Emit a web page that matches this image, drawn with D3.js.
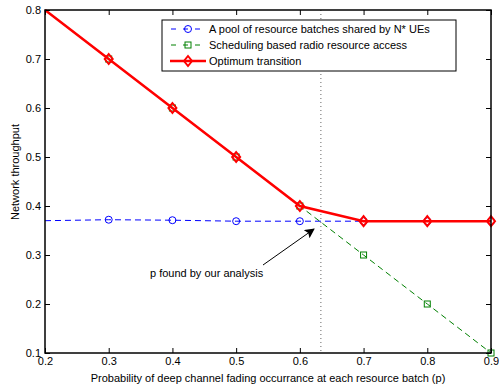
<!DOCTYPE html>
<html>
<head>
<meta charset="utf-8">
<script src="https://cdn.jsdelivr.net/npm/d3@7"></script>
<style>
  body { margin: 0; background: #fff; }
  svg { font-family: "Liberation Sans", Arial, sans-serif; }
</style>
</head>
<body>
<div id="chart"></div>
<script>
// data
const pValues = [0.2, 0.3, 0.4, 0.5, 0.6, 0.7, 0.8, 0.9];
const poolThroughput = [0.37, 0.372, 0.371, 0.369, 0.369, 0.369, 0.369, 0.369];
const schedThroughput = [0.8, 0.7, 0.6, 0.5, 0.4, 0.3, 0.2, 0.1];
const optimumThroughput = [0.8, 0.7, 0.6, 0.5, 0.4, 0.369, 0.369, 0.369];
const xTicks = [0.2, 0.3, 0.4, 0.5, 0.6, 0.7, 0.8, 0.9];
const yTicks = [0.1, 0.2, 0.3, 0.4, 0.5, 0.6, 0.7, 0.8];
const pFound = 0.633;
const legendLabels = ["A pool of resource batches shared by N* UEs", "Scheduling based radio resource access", "Optimum transition"];

const W = 499, H = 386;
const margin = {top: 10, right: 8, bottom: 33, left: 45};
const width = W - margin.left - margin.right;
const height = H - margin.top - margin.bottom;

const svg = d3.select("#chart").append("svg")
    .attr("width", W)
    .attr("height", H);

const g = svg.append("g")
    .attr("transform", "translate(" + margin.left + "," + margin.top + ")");

const x = d3.scaleLinear().domain([0.2, 0.9]).range([0, width]);
const y = d3.scaleLinear().domain([0.1, 0.8]).range([height, 0]);

// vertical dotted marker
g.append("line")
    .attr("x1", x(pFound)).attr("x2", x(pFound))
    .attr("y1", 0).attr("y2", height)
    .attr("stroke", "#666").attr("stroke-width", 1)
    .attr("stroke-dasharray", "1,3");

const line = vals => d3.line().x((d, i) => x(pValues[i])).y(d => y(d))(vals);
// no markers are shown at the first point (p = 0.2)
const withIdx = vals => vals.map((v, i) => ({p: pValues[i], v: v})).filter(d => d.p > 0.2);

const plot = g.append("g");

// blue pool series
plot.append("path")
    .attr("d", line(poolThroughput))
    .attr("fill", "none").attr("stroke", "#0000ff").attr("stroke-width", 1)
    .attr("stroke-dasharray", "6,4");
plot.selectAll(".pool").data(withIdx(poolThroughput)).enter().append("circle")
    .attr("class", "pool")
    .attr("cx", d => x(d.p)).attr("cy", d => y(d.v))
    .attr("r", 3.5).attr("fill", "none").attr("stroke", "#0000ff").attr("stroke-width", 1);

// green scheduling series
plot.append("path")
    .attr("d", line(schedThroughput))
    .attr("fill", "none").attr("stroke", "#008000").attr("stroke-width", 1)
    .attr("stroke-dasharray", "6,4");
plot.selectAll(".sched").data(withIdx(schedThroughput)).enter().append("rect")
    .attr("class", "sched")
    .attr("x", d => x(d.p) - 3).attr("y", d => y(d.v) - 3)
    .attr("width", 6).attr("height", 6)
    .attr("fill", "none").attr("stroke", "#008000").attr("stroke-width", 1);

// red optimum
const diamond = "M0,-5L4,0L0,5L-4,0Z";
plot.append("path")
    .attr("d", line(optimumThroughput))
    .attr("fill", "none").attr("stroke", "#ff0000").attr("stroke-width", 2.5);
plot.selectAll(".opt").data(withIdx(optimumThroughput)).enter().append("path")
    .attr("class", "opt")
    .attr("d", diamond)
    .attr("transform", d => "translate(" + x(d.p) + "," + y(d.v) + ")")
    .attr("fill", "none").attr("stroke", "#ff0000").attr("stroke-width", 2);

// axes with inward ticks
const xAxis = d3.axisBottom(x).tickValues(xTicks).tickFormat(d3.format(".1f")).tickSizeInner(-5).tickSizeOuter(0).tickPadding(4);
const yAxis = d3.axisLeft(y).tickValues(yTicks).tickFormat(d3.format(".1f")).tickSizeInner(-5).tickSizeOuter(0).tickPadding(4);
const xTop = d3.axisTop(x).tickValues(xTicks).tickFormat("").tickSizeInner(-5).tickSizeOuter(0);
const yRight = d3.axisRight(y).tickValues(yTicks).tickFormat("").tickSizeInner(-5).tickSizeOuter(0);

g.append("g").attr("class", "x-axis").attr("transform", "translate(0," + height + ")").call(xAxis);
g.append("g").attr("class", "y-axis").call(yAxis);
g.append("g").call(xTop);
g.append("g").attr("transform", "translate(" + width + ",0)").call(yRight);

g.selectAll(".tick line").attr("stroke", "#000").attr("stroke-width", 1);
g.selectAll(".tick text").attr("font-size", 11).attr("fill", "#000").attr("font-family", "Liberation Sans, Arial, sans-serif");
g.selectAll(".domain").remove();

// frame
g.append("rect")
    .attr("width", width).attr("height", height)
    .attr("fill", "none").attr("stroke", "#000").attr("stroke-width", 1.5);

// axis titles
svg.append("text")
    .attr("x", margin.left + width / 2).attr("y", 382)
    .attr("text-anchor", "middle").attr("font-size", 11)
    .text("Probability of deep channel fading occurrance at each resource batch (p)");
svg.append("text")
    .attr("transform", "translate(19,172) rotate(-90)")
    .attr("text-anchor", "middle").attr("font-size", 11)
    .text("Network throughput");

// annotation
svg.append("defs").append("marker")
    .attr("id", "arrow").attr("viewBox", "0 0 10 10")
    .attr("refX", 9).attr("refY", 5)
    .attr("markerWidth", 10).attr("markerHeight", 10)
    .attr("markerUnits", "userSpaceOnUse")
    .attr("orient", "auto")
    .append("path").attr("d", "M0,0L10,5L0,10L2,5Z").attr("fill", "#000");

svg.append("line")
    .attr("x1", 263).attr("y1", 265).attr("x2", 314).attr("y2", 229)
    .attr("stroke", "#000").attr("stroke-width", 1)
    .attr("marker-end", "url(#arrow)");
svg.append("text")
    .attr("x", 150).attr("y", 277).attr("font-size", 11)
    .text("p found by our analysis");

// legend
const legend = svg.append("g").attr("transform", "translate(162,20)");
legend.append("rect")
    .attr("width", 294).attr("height", 51)
    .attr("fill", "#fff").attr("stroke", "#000").attr("stroke-width", 1);

const rows = [
    {color: "#0000ff", dash: "6,4", w: 1, mark: "circle"},
    {color: "#008000", dash: "6,4", w: 1, mark: "square"},
    {color: "#ff0000", dash: null, w: 2.5, mark: "diamond"}
];
rows.forEach((r, i) => {
    const row = legend.append("g").attr("transform", "translate(0," + (9 + i * 16) + ")");
    row.append("line")
        .attr("x1", 8).attr("x2", 44).attr("y1", 0).attr("y2", 0)
        .attr("stroke", r.color).attr("stroke-width", r.w)
        .attr("stroke-dasharray", r.dash ? "5,7" : null)
        .attr("stroke-dashoffset", r.dash ? -1 : null);
    if (r.mark === "circle") {
        row.append("circle").attr("cx", 26).attr("cy", 0).attr("r", 3.5)
            .attr("fill", "none").attr("stroke", r.color);
    } else if (r.mark === "square") {
        row.append("rect").attr("x", 23).attr("y", -3).attr("width", 6).attr("height", 6)
            .attr("fill", "none").attr("stroke", r.color);
    } else {
        row.append("path").attr("d", diamond).attr("transform", "translate(26,0)")
            .attr("fill", "none").attr("stroke", r.color).attr("stroke-width", 2);
    }
    row.append("text")
        .attr("x", 47).attr("y", 4).attr("font-size", 11)
        .text(legendLabels[i]);
});
</script>
</body>
</html>
